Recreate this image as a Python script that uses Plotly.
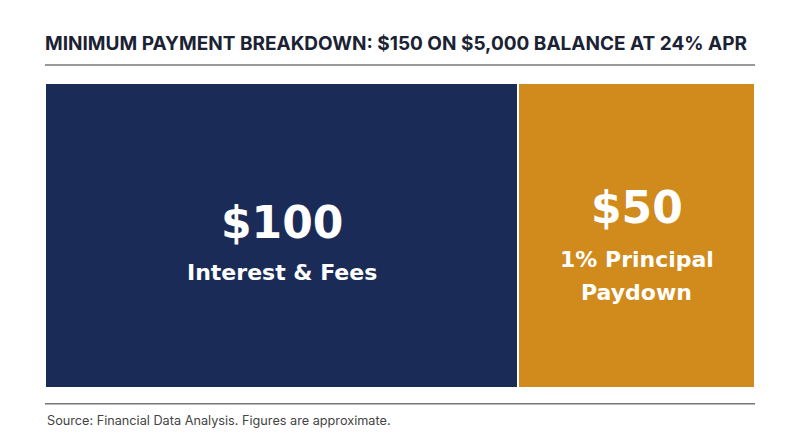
import plotly.graph_objects as go

# payment split
amounts = [100, 50]
labels = [["Interest & Fees"], ["1% Principal", "Paydown"]]
colors = ["#1b2b58", "#d18a1c"]

title = "MINIMUM PAYMENT BREAKDOWN: $150 ON $5,000 BALANCE AT 24% APR"
source = "Source: Financial Data Analysis. Figures are approximate."

fig = go.Figure()
for amt, col in zip(amounts, colors):
    fig.add_trace(go.Bar(
        x=[amt], y=[0], orientation="h",
        marker=dict(color=col, line=dict(color="white", width=2)),
        hoverinfo="skip",
    ))

# value + label written in the middle of each block
start = 0
for lines, amt in zip(labels, amounts):
    mid = start + amt / 2
    n = len(lines)
    fig.add_annotation(x=mid, y=0, text=f"<b>${amt}</b>", showarrow=False,
                       yshift=13.5 + 15 * (n - 1),
                       font=dict(family="DejaVu Sans", size=44, color="white"))
    for i, line in enumerate(lines):
        fig.add_annotation(x=mid, y=0, text=f"<b>{line}</b>", showarrow=False,
                           yshift=-(36.5 + 3.5 * (n - 1)) - (i - (n - 1) / 2) * 33,
                           font=dict(family="DejaVu Sans", size=22, color="white"))
    start += amt

fig.update_layout(
    barmode="stack", bargap=0, showlegend=False,
    width=792, height=439,
    margin=dict(l=37, r=45, t=75, b=59),
    paper_bgcolor="white", plot_bgcolor="white",
    title=dict(text=f"<b>{title}</b>", x=37 / 792, xanchor="left",
               y=1 - 35 / 439, yanchor="middle",
               font=dict(family="Inter", size=19, color="#1a2233")),
)
fig.update_xaxes(range=[0, sum(amounts)], visible=False, fixedrange=True)
fig.update_yaxes(range=[-0.5, 0.5], visible=False, fixedrange=True)

# rules above and below the blocks
for yy in [1.059, -0.052]:
    fig.add_shape(type="line", xref="paper", yref="paper", x0=0, x1=1, y0=yy, y1=yy,
                  line=dict(color="#777777", width=1.5))

fig.add_annotation(text=source, xref="paper", yref="paper", x=0, y=-0.108,
                   xanchor="left", yanchor="middle", showarrow=False,
                   font=dict(family="Inter", size=12.7, color="#444444"))

fig.write_html("out.html")
